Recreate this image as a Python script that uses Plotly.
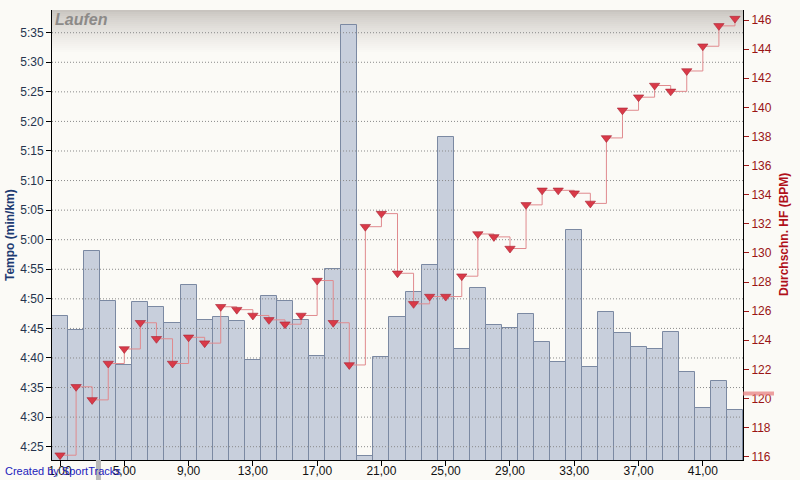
import plotly.graph_objects as go

# ---------------- data ----------------
laps = list(range(1, 44))

# pace per lap in seconds per km
pace_sec = [287.1, 284.7, 298.1, 289.6, 278.8, 289.4, 288.6, 285.9, 292.3, 286.5,
            286.9, 286.2, 279.7, 290.4, 289.6, 286.4, 280.4, 295.0, 336.3, 263.4,
            280.1, 286.9, 291.1, 295.7, 317.4, 281.5, 291.8, 285.6, 285.0, 287.4,
            282.7, 279.4, 301.6, 278.4, 287.7, 284.2, 281.8, 281.5, 284.4, 277.7,
            271.5, 276.1, 271.2]

# average heart rate per lap (BPM)
avg_hr = [116.1, 120.8, 119.9, 122.4, 123.4, 125.2, 124.1, 122.4, 124.2, 123.8,
          126.3, 126.1, 125.7, 125.4, 125.1, 125.7, 128.1, 125.2, 122.3, 131.8,
          132.7, 128.6, 126.5, 127.0, 127.0, 128.4, 131.3, 131.1, 130.3, 133.3,
          134.3, 134.3, 134.1, 133.4, 137.9, 139.8, 140.7, 141.5, 141.1, 142.5,
          144.2, 145.6, 146.1]

x_tick_vals = [1, 5, 9, 13, 17, 21, 25, 29, 33, 37, 41]
x_tick_text = ["1,00", "5,00", "9,00", "13,00", "17,00", "21,00", "25,00",
               "29,00", "33,00", "37,00", "41,00"]

pace_tick_vals = [265, 270, 275, 280, 285, 290, 295, 300, 305, 310, 315, 320, 325, 330, 335]
pace_tick_text = ["4:25", "4:30", "4:35", "4:40", "4:45", "4:50", "4:55", "5:00",
                  "5:05", "5:10", "5:15", "5:20", "5:25", "5:30", "5:35"]

hr_tick_vals = [116, 118, 120, 122, 124, 126, 128, 130, 132, 134, 136, 138, 140, 142, 144, 146]

PACE_RANGE = [262.75, 338.84]
HR_RANGE = [115.77, 146.69]
X_RANGE = [0.5, 43.5]

BG = "#fbfaf6"
FONT = "Liberation Sans"

fig = go.Figure()

fig.add_trace(go.Bar(
    x=laps, y=pace_sec, yaxis="y",
    marker=dict(color="#c8cfdc", line=dict(color="#7b89a2", width=1)),
    hoverinfo="skip", showlegend=False,
))

# dotted grid drawn above the bars (as in the original)
for v in pace_tick_vals:
    fig.add_trace(go.Scatter(
        x=X_RANGE, y=[v, v], yaxis="y", mode="lines",
        line=dict(color="#8a8a8a", width=1, dash="1px,2px"),
        hoverinfo="skip", showlegend=False,
    ))

fig.add_trace(go.Scatter(
    x=laps, y=avg_hr, yaxis="y2", mode="lines+markers",
    line=dict(color="#e08a8e", width=1, shape="hv"),
    marker=dict(symbol="triangle-down", size=9, color="#d93a48",
                line=dict(color="#a82434", width=0.6)),
    hoverinfo="skip", showlegend=False,
))

# gray gradient band at top of plot area
shapes = []
n = 22
ph = 450.0
for k in range(n):
    t = k / (n - 1)
    w = t ** 0.75
    c0 = (200, 196, 191)
    c1 = (251, 250, 246)
    col = tuple(int(round(c0[i] + (c1[i] - c0[i]) * w)) for i in range(3))
    shapes.append(dict(type="rect", xref="paper", yref="paper", layer="below",
                       x0=0, x1=1, y0=1 - (k + 1) * 2 / ph, y1=1 - k * 2 / ph,
                       line=dict(width=0), fillcolor="rgb(%d,%d,%d)" % col))

# pink marker on the right axis
shapes.append(dict(type="rect", xref="paper", yref="paper", layer="above",
                   x0=1.0, x1=1.0 + 31 / 691.5,
                   y0=(460 - 395.5) / ph, y1=(460 - 391.5) / ph,
                   line=dict(width=0), fillcolor="rgba(232,130,130,0.75)"))
# small gray slider mark under the x axis
shapes.append(dict(type="rect", xref="paper", yref="paper", layer="above",
                   x0=(95.5 - 51.5) / 691.5, x1=(100.5 - 51.5) / 691.5,
                   y0=-20 / ph, y1=0,
                   line=dict(width=0), fillcolor="#b9b9b9"))

annotations = [
    dict(text="<i><b>Laufen</b></i>", xref="paper", yref="paper", x=0, y=1,
         xanchor="left", yanchor="top", xshift=1, yshift=1, showarrow=False,
         font=dict(family=FONT, size=16, color="#8c8a88")),
    dict(text="<b>Tempo (min/km)</b>", xref="paper", yref="paper", x=0, y=0.5,
         xanchor="center", yanchor="middle", xshift=-42, textangle=-90, showarrow=False,
         font=dict(family=FONT, size=12, color="#1e3b72")),
    dict(text="<b>Durchschn. HF (BPM)</b>", xref="paper", yref="paper", x=1, y=0.5,
         xanchor="center", yanchor="middle", xshift=41, textangle=-90, showarrow=False,
         font=dict(family=FONT, size=12, color="#b0101a")),
    dict(text="Created by SportTracks", xref="paper", yref="paper", x=0, y=0,
         xanchor="left", yanchor="middle", xshift=-49, yshift=-11, showarrow=False,
         font=dict(family=FONT, size=11, color="#2222bb")),
]

fig.update_layout(
    width=800, height=480,
    margin=dict(l=51.5, r=57, t=10, b=20, pad=0, autoexpand=False),
    paper_bgcolor=BG, plot_bgcolor=BG,
    bargap=0,
    showlegend=False,
    font=dict(family=FONT, size=12, color="#000000"),
    shapes=shapes,
    annotations=annotations,
    xaxis=dict(range=X_RANGE, tickmode="array", tickvals=x_tick_vals, ticktext=x_tick_text,
               automargin=False, ticklabelstandoff=-5,
               showgrid=False, zeroline=False, showline=True, linecolor="#000000", linewidth=1,
               ticks="outside", ticklen=5, tickcolor="#000000",
               tickfont=dict(family=FONT, size=12, color="#111111")),
    yaxis=dict(range=PACE_RANGE, tickmode="array", tickvals=pace_tick_vals, ticktext=pace_tick_text,
               automargin=False,
               showgrid=False, zeroline=False, showline=True, linecolor="#000000", linewidth=1,
               ticks="outside", ticklen=5, tickcolor="#000000",
               tickfont=dict(family=FONT, size=12, color="#25344e")),
    yaxis2=dict(range=HR_RANGE, overlaying="y", side="right", tickmode="array",
                automargin=False,
                tickvals=hr_tick_vals, showgrid=False, zeroline=False,
                showline=True, linecolor="#000000", linewidth=1,
                ticks="outside", ticklen=5, tickcolor="#a01818",
                tickfont=dict(family=FONT, size=12, color="#9a1414")),
)

fig.write_html(
    "out.html",
    config={"displayModeBar": False},
    post_script="document.body.style.margin='0px';document.body.style.padding='0px';"
                "document.body.style.background='%s';document.body.style.overflow='hidden';" % BG,
)
